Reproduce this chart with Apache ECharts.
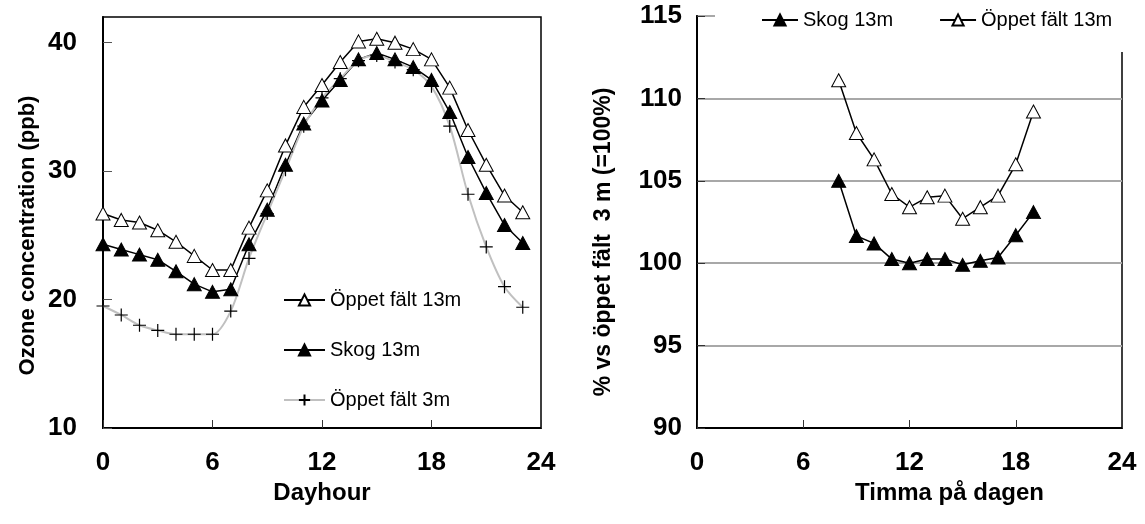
<!DOCTYPE html>
<html>
<head>
<meta charset="utf-8">
<script src="https://cdn.jsdelivr.net/npm/echarts@6/dist/echarts.min.js"></script>
<style>
  html, body { margin: 0; padding: 0; background: #fff; }
  #chart { width: 1145px; height: 524px; }
</style>
</head>
<body>
<div id="chart"></div>
<script>
// Hourly ozone, left panel (ppb)
const hours = [0, 1, 2, 3, 4, 5, 6, 7, 8, 9, 10, 11, 12, 13, 14, 15, 16, 17, 18, 19, 20, 21, 22, 23];
const openField13 = [26.7, 26.2, 26.0, 25.4, 24.5, 23.4, 22.3, 22.3, 25.6, 28.5, 32.0, 35.0, 36.7, 38.5, 40.1, 40.3, 40.0, 39.5, 38.7, 36.5, 33.2, 30.5, 28.1, 26.8];
const forest13 = [24.3, 23.9, 23.5, 23.1, 22.2, 21.2, 20.6, 20.8, 24.3, 27.0, 30.5, 33.7, 35.5, 37.1, 38.7, 39.2, 38.7, 38.1, 37.1, 34.6, 31.1, 28.3, 25.8, 24.4];
const openField3 = [19.5, 18.8, 18.0, 17.6, 17.3, 17.3, 17.3, 19.1, 23.2, 26.7, 30.1, 33.5, 35.7, 37.2, 38.6, 39.0, 38.5, 37.9, 36.6, 33.5, 28.2, 24.1, 21.0, 19.4];

// Relative to open field 3 m (=100%), right panel
const ratioHours = [8, 9, 10, 11, 12, 13, 14, 15, 16, 17, 18, 19];
const forestRatio = [105.0, 101.65, 101.2, 100.25, 100.0, 100.25, 100.25, 99.9, 100.15, 100.35, 101.7, 103.1];
const openRatio = [111.1, 107.9, 106.3, 104.2, 103.4, 104.0, 104.1, 102.7, 103.4, 104.1, 106.0, 109.2];

const xTicks = [0, 6, 12, 18, 24];

const NAME_OPEN13 = 'Öppet fält 13m';
const NAME_FOREST13 = 'Skog 13m';
const NAME_OPEN3 = 'Öppet fält 3m';

const FONT = '"Liberation Sans", Arial, Helvetica, sans-serif';

function pairs(xs, ys) { return xs.map((x, i) => [x, ys[i]]); }

const plusPath = 'path://M0,5L10,5M5,0L5,10';

const labelStyle = { color: '#000', fontFamily: FONT, fontWeight: 'bold', fontSize: 26 };
function nameStyle(size, padding) {
  return { color: '#000', fontFamily: FONT, fontWeight: 'bold', fontSize: size, padding };
}

function xAxis(gridIndex, name, padding) {
  return {
    type: 'value', gridIndex, min: 0, max: 24, interval: 6,
    name, nameLocation: 'middle', nameGap: 50, nameTextStyle: nameStyle(24, padding),
    axisLine: { show: true, lineStyle: { color: '#000', width: 2 } },
    axisTick: { show: true, inside: true, length: 8, lineStyle: { color: '#333', width: 1 } },
    axisLabel: Object.assign({ margin: 22, formatter: v => (xTicks.indexOf(v) >= 0 ? String(v) : '') }, labelStyle),
    splitLine: { show: false }
  };
}

const option = {
  animation: false,
  backgroundColor: '#fff',
  textStyle: { fontFamily: FONT },
  grid: [
    { left: 103, top: 17, width: 438, height: 411, show: true, borderColor: '#000', borderWidth: 1.5, backgroundColor: 'transparent' },
    { left: 697, top: 16, width: 425, height: 412, show: true, borderColor: '#000', borderWidth: 1.5, backgroundColor: 'transparent' }
  ],
  legend: [
    {
      orient: 'vertical', left: 278, top: 285, itemGap: 30, itemWidth: 41, itemHeight: 14,
      textStyle: { color: '#000', fontSize: 20, fontFamily: FONT },
      data: [NAME_OPEN13, NAME_FOREST13, NAME_OPEN3]
    },
    {
      orient: 'horizontal', left: 715, top: 0, itemGap: 46, itemWidth: 36, itemHeight: 14,
      padding: [10, 30, 22, 46], backgroundColor: '#fff', z: 10,
      textStyle: { color: '#000', fontSize: 20, fontFamily: FONT },
      data: [NAME_FOREST13, NAME_OPEN13]
    }
  ],
  xAxis: [xAxis(0, 'Dayhour', [0, 0, 0, 0]), xAxis(1, 'Timma på dagen', [0, 0, 0, 80])],
  yAxis: [
    {
      type: 'value', gridIndex: 0, min: 10, max: 42, interval: 10,
      name: 'Ozone concentration (ppb)', nameLocation: 'middle', nameGap: 64,
      nameTextStyle: nameStyle(22, [0, 26, 0, 0]),
      axisLine: { show: true, lineStyle: { color: '#000', width: 2 } },
      axisTick: { show: true, inside: true, length: 9, lineStyle: { color: '#555', width: 1 } },
      axisLabel: Object.assign({ margin: 26, showMaxLabel: false, formatter: v => (v % 10 === 0 ? String(v) : '') }, labelStyle),
      splitLine: { show: false }
    },
    {
      type: 'value', gridIndex: 1, min: 90, max: 115, interval: 5,
      name: '% vs öppet fält  3 m (=100%)', nameLocation: 'middle', nameGap: 82,
      nameTextStyle: nameStyle(23, [0, 40, 0, 0]),
      axisLine: { show: true, lineStyle: { color: '#000', width: 2 } },
      axisTick: { show: true, inside: true, length: 8, lineStyle: { color: '#333', width: 1 } },
      axisLabel: Object.assign({ margin: 15 }, labelStyle),
      splitLine: { show: true, lineStyle: { color: '#a8a8a8', width: 2 } }
    }
  ],
  series: [
    {
      name: NAME_OPEN13, type: 'line', xAxisIndex: 0, yAxisIndex: 0,
      data: pairs(hours, openField13),
      symbol: 'triangle', symbolSize: [14, 13],
      lineStyle: { color: '#000', width: 1.5 },
      itemStyle: { color: '#fff', borderColor: '#000', borderWidth: 1 }
    },
    {
      name: NAME_FOREST13, type: 'line', xAxisIndex: 0, yAxisIndex: 0,
      data: pairs(hours, forest13),
      symbol: 'triangle', symbolSize: [14, 13],
      lineStyle: { color: '#000', width: 1.5 },
      itemStyle: { color: '#000', borderColor: '#000', borderWidth: 1 }
    },
    {
      name: NAME_OPEN3, type: 'line', xAxisIndex: 0, yAxisIndex: 0,
      data: pairs(hours, openField3),
      smooth: 0.3,
      symbol: plusPath, symbolSize: 13,
      lineStyle: { color: '#c0c0c0', width: 2 },
      itemStyle: { color: 'none', borderColor: '#000', borderWidth: 1.2 }
    },
    {
      name: NAME_OPEN13, type: 'line', xAxisIndex: 1, yAxisIndex: 1,
      data: pairs(ratioHours, openRatio),
      symbol: 'triangle', symbolSize: [14, 13],
      lineStyle: { color: '#000', width: 1.5 },
      itemStyle: { color: '#fff', borderColor: '#000', borderWidth: 1 }
    },
    {
      name: NAME_FOREST13, type: 'line', xAxisIndex: 1, yAxisIndex: 1,
      data: pairs(ratioHours, forestRatio),
      symbol: 'triangle', symbolSize: [14, 13],
      lineStyle: { color: '#000', width: 1.5 },
      itemStyle: { color: '#000', borderColor: '#000', borderWidth: 1 }
    }
  ]
};

const chart = echarts.init(document.getElementById('chart'), null, { renderer: 'canvas' });
chart.setOption(option);
</script>
</body>
</html>
